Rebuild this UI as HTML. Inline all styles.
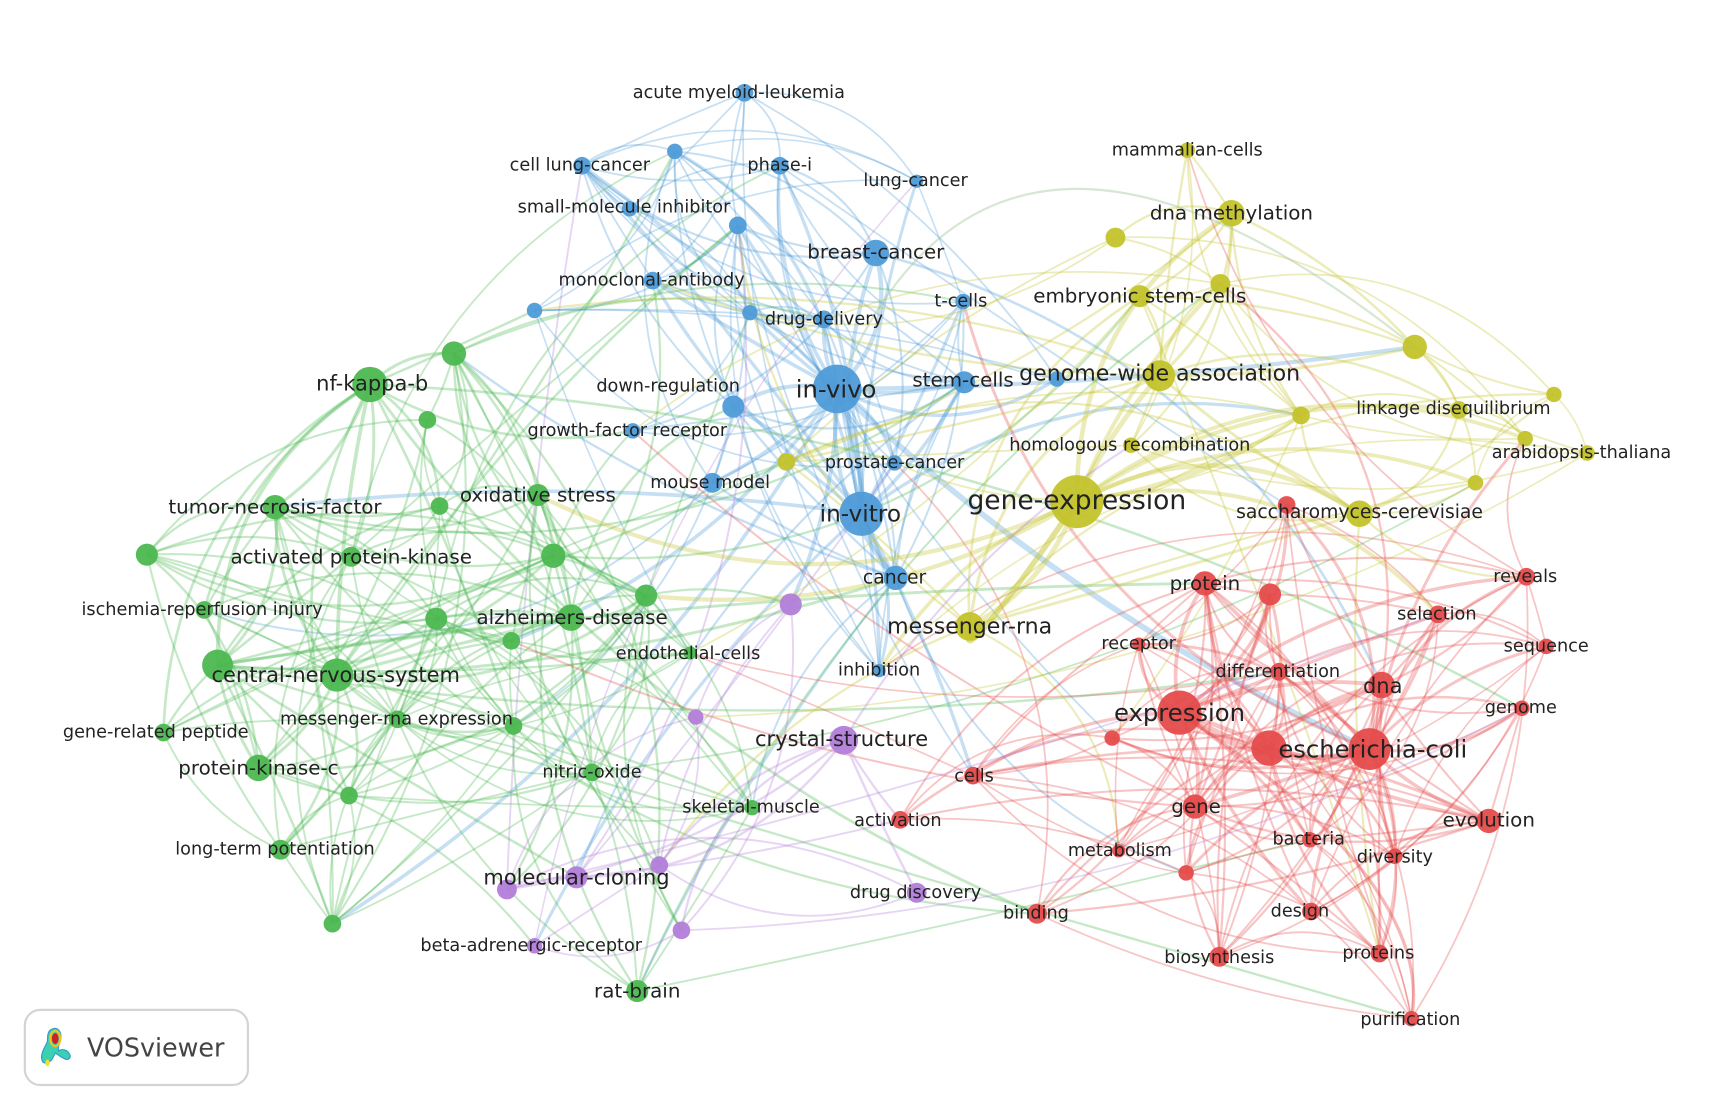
<!DOCTYPE html>
<html><head><meta charset="utf-8"><style>
html,body{margin:0;padding:0;background:#fff;}
svg{display:block;}
text{font-family:"DejaVu Sans","Liberation Sans",sans-serif;fill:#222;text-anchor:middle;dominant-baseline:central;}
</style></head><body>
<svg id="s" width="1724" height="1106" viewBox="0 0 1561 1001" preserveAspectRatio="none" xmlns="http://www.w3.org/2000/svg">
<rect width="1561" height="1001" fill="#fff"/>
<g id="edges" fill="none"></g>
<g id="nodes"></g>
<g id="labels">
<text x="669" y="84" font-size="16">acute myeloid-leukemia</text>
<text x="525" y="150" font-size="16">cell lung-cancer</text>
<text x="706" y="150" font-size="16">phase-i</text>
<text x="829" y="164" font-size="16">lung-cancer</text>
<text x="565" y="188" font-size="16">small-molecule inhibitor</text>
<text x="793" y="228" font-size="18">breast-cancer</text>
<text x="590" y="254" font-size="16">monoclonal-antibody</text>
<text x="870" y="273" font-size="16">t-cells</text>
<text x="746" y="289" font-size="16">drug-delivery</text>
<text x="757" y="352" font-size="22">in-vivo</text>
<text x="872" y="344" font-size="18">stem-cells</text>
<text x="605" y="350" font-size="16">down-regulation</text>
<text x="568" y="390" font-size="16">growth-factor receptor</text>
<text x="810" y="419" font-size="16">prostate-cancer</text>
<text x="643" y="437" font-size="16">mouse model</text>
<text x="779" y="465" font-size="21">in-vitro</text>
<text x="810" y="523" font-size="17">cancer</text>
<text x="796" y="607" font-size="16">inhibition</text>
<text x="337" y="347" font-size="19">nf-kappa-b</text>
<text x="249" y="459" font-size="18">tumor-necrosis-factor</text>
<text x="487" y="448" font-size="18">oxidative stress</text>
<text x="318" y="504" font-size="18">activated protein-kinase</text>
<text x="183" y="552" font-size="16">ischemia-reperfusion injury</text>
<text x="518" y="559" font-size="18">alzheimers-disease</text>
<text x="623" y="592" font-size="16">endothelial-cells</text>
<text x="304" y="611" font-size="19">central-nervous-system</text>
<text x="141" y="663" font-size="16">gene-related peptide</text>
<text x="359" y="651" font-size="16">messenger-rna expression</text>
<text x="234" y="695" font-size="18">protein-kinase-c</text>
<text x="536" y="699" font-size="16">nitric-oxide</text>
<text x="680" y="731" font-size="16">skeletal-muscle</text>
<text x="249" y="769" font-size="16">long-term potentiation</text>
<text x="577" y="897" font-size="18">rat-brain</text>
<text x="1075" y="136" font-size="16">mammalian-cells</text>
<text x="1115" y="193" font-size="18">dna methylation</text>
<text x="1032" y="268" font-size="18">embryonic stem-cells</text>
<text x="1050" y="338" font-size="20">genome-wide association</text>
<text x="1316" y="370" font-size="16">linkage disequilibrium</text>
<text x="1023" y="403" font-size="16">homologous recombination</text>
<text x="1432" y="410" font-size="16">arabidopsis-thaliana</text>
<text x="975" y="453" font-size="24">gene-expression</text>
<text x="1231" y="464" font-size="17">saccharomyces-cerevisiae</text>
<text x="878" y="567" font-size="20">messenger-rna</text>
<text x="762" y="669" font-size="19">crystal-structure</text>
<text x="522" y="794" font-size="19">molecular-cloning</text>
<text x="829" y="808" font-size="16">drug discovery</text>
<text x="481" y="856" font-size="16">beta-adrenergic-receptor</text>
<text x="1091" y="528" font-size="18">protein</text>
<text x="1381" y="522" font-size="16">reveals</text>
<text x="1301" y="556" font-size="16">selection</text>
<text x="1400" y="585" font-size="16">sequence</text>
<text x="1031" y="583" font-size="16">receptor</text>
<text x="1157" y="608" font-size="16">differentiation</text>
<text x="1252" y="621" font-size="19">dna</text>
<text x="1377" y="641" font-size="16">genome</text>
<text x="1068" y="645" font-size="22">expression</text>
<text x="1243" y="678" font-size="22">escherichia-coli</text>
<text x="882" y="703" font-size="16">cells</text>
<text x="813" y="743" font-size="16">activation</text>
<text x="1083" y="730" font-size="18">gene</text>
<text x="1348" y="742" font-size="18">evolution</text>
<text x="1014" y="770" font-size="16">metabolism</text>
<text x="1185" y="760" font-size="16">bacteria</text>
<text x="1263" y="776" font-size="16">diversity</text>
<text x="938" y="827" font-size="16">binding</text>
<text x="1177" y="825" font-size="16">design</text>
<text x="1104" y="867" font-size="16">biosynthesis</text>
<text x="1248" y="863" font-size="16">proteins</text>
<text x="1277" y="923" font-size="16">purification</text>
</g>
<g>
<rect x="22.5" y="914" width="202" height="68" rx="14" fill="#fff" stroke="#d4d4d4" stroke-width="2"/>
<path d="M46 932 c6 -4 10 2 9 8 c-1 5 -3 8 -2 11 c3 -2 8 -1 10 3 c2 4 -2 6 -5 4 c-3 -1 -6 -4 -8 -5 c-2 4 -3 8 -8 9 c-4 1 -5 -4 -4 -8 c1 -5 4 -8 5 -12 c0 -4 0 -8 3 -10z" fill="#3cd0b0" stroke="#2a9bd0" stroke-width="1"/>
<ellipse cx="50" cy="940" rx="3" ry="5" fill="#d02020"/>
<ellipse cx="50" cy="940" rx="4.5" ry="7" fill="none" stroke="#f0c020" stroke-width="2"/>
<ellipse cx="43" cy="962" rx="2" ry="3" fill="#f0e030"/>
<text x="141" y="948" font-size="23" fill="#444" style="fill:#444">VOSviewer</text>
</g>
</svg>
<script>
const C={b:"#4f9bd8",g:"#4cb850",y:"#c3c32c",r:"#e54b4b",p:"#b27ed9"};
const N=[
["b",758,352,22],["b",780,465,20],["b",793,229,12],["b",873,346,10],["b",811,523,11],["b",664,368,10],["b",645,437,9],["b",674,84,8],["b",527,150,8],["b",706,150,8],["b",570,189,7],["b",668,204,8],["b",830,164,6],["b",591,254,8],["b",872,273,7],["b",746,289,8],["b",611,137,7],["b",484,281,7],["b",679,283,7],["b",573,390,7],["b",810,419,7],["b",796,607,6],["b",957,343,7],
["g",335,348,16],["g",249,459,11],["g",318,504,9],["g",487,448,10],["g",517,559,12],["g",305,611,15],["g",197,602,14],["g",185,552,8],["g",148,663,8],["g",360,651,8],["g",234,695,12],["g",254,769,9],["g",536,699,8],["g",681,731,7],["g",577,897,10],["g",411,320,11],["g",387,380,8],["g",398,458,8],["g",133,502,10],["g",501,503,11],["g",585,539,10],["g",395,560,10],["g",463,580,8],["g",465,657,8],["g",316,720,8],["g",301,836,8],["g",625,591,6],
["y",975,454,24],["y",878,567,13],["y",1050,340,14],["y",1115,193,12],["y",1032,268,10],["y",1075,136,7],["y",1010,215,9],["y",1105,257,9],["y",1281,314,11],["y",1178,376,8],["y",1321,371,8],["y",1407,357,7],["y",1381,397,7],["y",1437,410,7],["y",1336,437,7],["y",1024,403,7],["y",1231,465,12],["y",712,418,8],
["r",1068,645,20],["r",1240,678,19],["r",1149,677,16],["r",1251,620,12],["r",1091,528,11],["r",1150,538,10],["r",1165,457,8],["r",1382,522,8],["r",1302,556,8],["r",1400,585,7],["r",1378,641,7],["r",1158,608,8],["r",1031,583,6],["r",1007,668,7],["r",881,702,8],["r",815,742,8],["r",1082,730,11],["r",1348,743,11],["r",1013,770,6],["r",1186,760,7],["r",1263,775,7],["r",1074,790,7],["r",939,827,9],["r",1187,825,8],["r",1104,866,9],["r",1249,863,8],["r",1278,922,7],
["p",764,670,13],["p",716,547,10],["p",630,649,7],["p",522,794,10],["p",459,805,9],["p",597,783,8],["p",830,808,9],["p",484,856,7],["p",617,842,8]
];
let seed=12345;function rnd(){seed=(seed*1103515245+12345)%2147483648;return seed/2147483648;}
const E=document.getElementById("edges");
let out="";
for(let i=0;i<N.length;i++)for(let j=i+1;j<N.length;j++){
 const a=N[i],b=N[j];const dx=b[1]-a[1],dy=b[2]-a[2],d=Math.hypot(dx,dy);
 const same=a[0]==b[0];
 let p=(same?0.5:0.05)*Math.min(2.5,(a[3]+b[3])/16)*Math.max(0.15,1-d/(same?700:900));
 if(rnd()<p){
  const w=Math.min(6,1+(a[3]+b[3])*(a[3]+b[3])/400);
  const bend=(rnd()-0.5)*0.6;
  const cx=(a[1]+b[1])/2-dy*bend,cy=(a[2]+b[2])/2+dx*bend;
  const col=a[3]>=b[3]?C[a[0]]:C[b[0]];
  out+=`<path d="M${a[1]} ${a[2]} Q${cx.toFixed(1)} ${cy.toFixed(1)} ${b[1]} ${b[2]}" stroke="${col}" stroke-opacity="0.32" stroke-width="${w.toFixed(1)}"/>`;
 }
}
out+=`<path d="M758 352 Q900 10 1281 314" stroke="#a8c8a0" stroke-opacity="0.45" stroke-width="2"/>`;
out+=`<path d="M1068 645 Q1300 800 1278 922" stroke="#e54b4b" stroke-opacity="0.4" stroke-width="3"/>`;
out+=`<path d="M975 454 Q860 620 880 567" stroke="#c3c32c" stroke-opacity="0.5" stroke-width="5"/>`;
E.innerHTML=out;
let nd="";
for(const n of N){nd+=`<circle cx="${n[1]}" cy="${n[2]}" r="${n[3]}" fill="${C[n[0]]}" fill-opacity="0.95"/>`;}
document.getElementById("nodes").innerHTML=nd;
</script>
</body></html>
